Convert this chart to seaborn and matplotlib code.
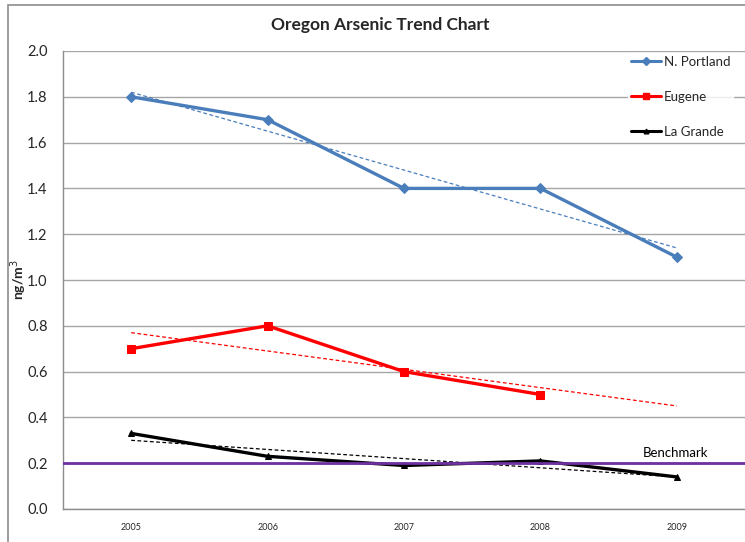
import numpy as np
import pandas as pd
import matplotlib
matplotlib.use("Agg")
import matplotlib.pyplot as plt
from matplotlib.lines import Line2D
from matplotlib.patches import Rectangle
import seaborn as sns

years = ["2005", "2006", "2007", "2008", "2009"]
portland = [1.80, 1.70, 1.40, 1.40, 1.10]
eugene = [0.70, 0.80, 0.60, 0.50, np.nan]
lagrande = [0.33, 0.23, 0.19, 0.21, 0.14]
series_names = ["N. Portland", "Eugene", "La Grande"]
benchmark = 0.2
yticks = [0.0, 0.2, 0.4, 0.6, 0.8, 1.0, 1.2, 1.4, 1.6, 1.8, 2.0]

sns.set_theme(style="white")
plt.rcParams["font.family"] = ["Lato", "DejaVu Sans"]

colors = ["#4a7ebb", "#ff0000", "#000000"]
markers = ["D", "s", "^"]
msizes = [5.5, 6, 4.5]

fig = plt.figure(figsize=(7.45, 5.42), dpi=100)
ax = fig.add_axes([63 / 745, 1 - 509 / 542, 1 - 63 / 745, (509 - 51) / 542])

# outer chart border
fig.patches.append(Rectangle((8 / 745, -0.1), 1.2, (537 / 542) + 0.1, transform=fig.transFigure,
                             fill=False, edgecolor="#8c8c8c", linewidth=1.2, zorder=0))

x = np.arange(len(years))
df = pd.DataFrame({"x": np.tile(x, 3),
                   "value": portland + eugene + lagrande,
                   "site": np.repeat(series_names, len(years))})

for name, c, m, ms in zip(series_names, colors, markers, msizes):
    sub = df[df["site"] == name].dropna()
    sns.lineplot(data=sub, x="x", y="value", ax=ax, color=c, linewidth=2.4,
                 marker=m, markersize=ms, markeredgecolor=c, markerfacecolor=c, zorder=4)
    # linear trend line (forecast to last category)
    k, b = np.polyfit(sub["x"].values, sub["value"].values, 1)
    xt = np.array([x[0], x[-1]])
    sns.lineplot(x=xt, y=k * xt + b, ax=ax, color=c, linewidth=0.9,
                 linestyle=(0, (3, 2)), zorder=3)

ax.axhline(benchmark, color="#7030a0", linewidth=2.0, zorder=5)
ax.text(x[-1] - 0.01, benchmark + 0.02, "Benchmark", fontsize=9.5, ha="center", va="bottom",
        color="#000000")

ax.set_xlim(-0.5, len(years) - 0.5)
ax.set_ylim(0, 2.0)
ax.set_yticks(yticks)
ax.set_yticklabels([f"{v:.1f}" for v in yticks], fontsize=10.5)
ax.set_xticks(x)
ax.set_xticklabels(years, fontsize=6.5)
ax.set_xticks(np.arange(-0.5, len(years)), minor=True)
ax.tick_params(axis="x", which="major", length=0, pad=10)
ax.tick_params(axis="x", which="minor", length=5, color="#8c8c8c", width=1, direction="out")
ax.tick_params(axis="y", which="major", length=5, color="#8c8c8c", width=1, direction="out", pad=6)
ax.grid(axis="y", color="#a6a6a6", linewidth=1.0)
ax.set_axisbelow(True)
for s in ["top", "right"]:
    ax.spines[s].set_visible(False)
ax.spines["left"].set_color("#8c8c8c")
ax.spines["bottom"].set_color("#8c8c8c")
ax.spines["left"].set_linewidth(1.0)
ax.spines["bottom"].set_linewidth(1.0)
ax.set_xlabel("")
ax.set_ylabel("ng/m$^3$", fontsize=10, fontweight="bold")
ax.yaxis.set_label_coords(-0.050, 0.5)

fig.text(380 / 745, 1 - 25 / 542, "Oregon Arsenic Trend Chart", ha="center", va="center",
         fontsize=12.5, fontweight="bold")

handles = [Line2D([0], [0], color=c, linewidth=2.2, marker=m, markersize=ms * 0.75,
                  markerfacecolor=c, markeredgecolor=c)
           for c, m, ms in zip(colors, markers, msizes)]
leg = ax.legend(handles, series_names, loc="upper left",
                bbox_to_anchor=(628 / 745, 1 - 53 / 542), bbox_transform=fig.transFigure,
                frameon=True, fontsize=9.5, labelspacing=1.75, handlelength=2.3,
                handletextpad=0.2, borderpad=0.2, borderaxespad=0, fancybox=False)
leg.get_frame().set_facecolor("white")
leg.get_frame().set_edgecolor("white")
leg.set_zorder(10)

fig.savefig("out.png", dpi=100)
